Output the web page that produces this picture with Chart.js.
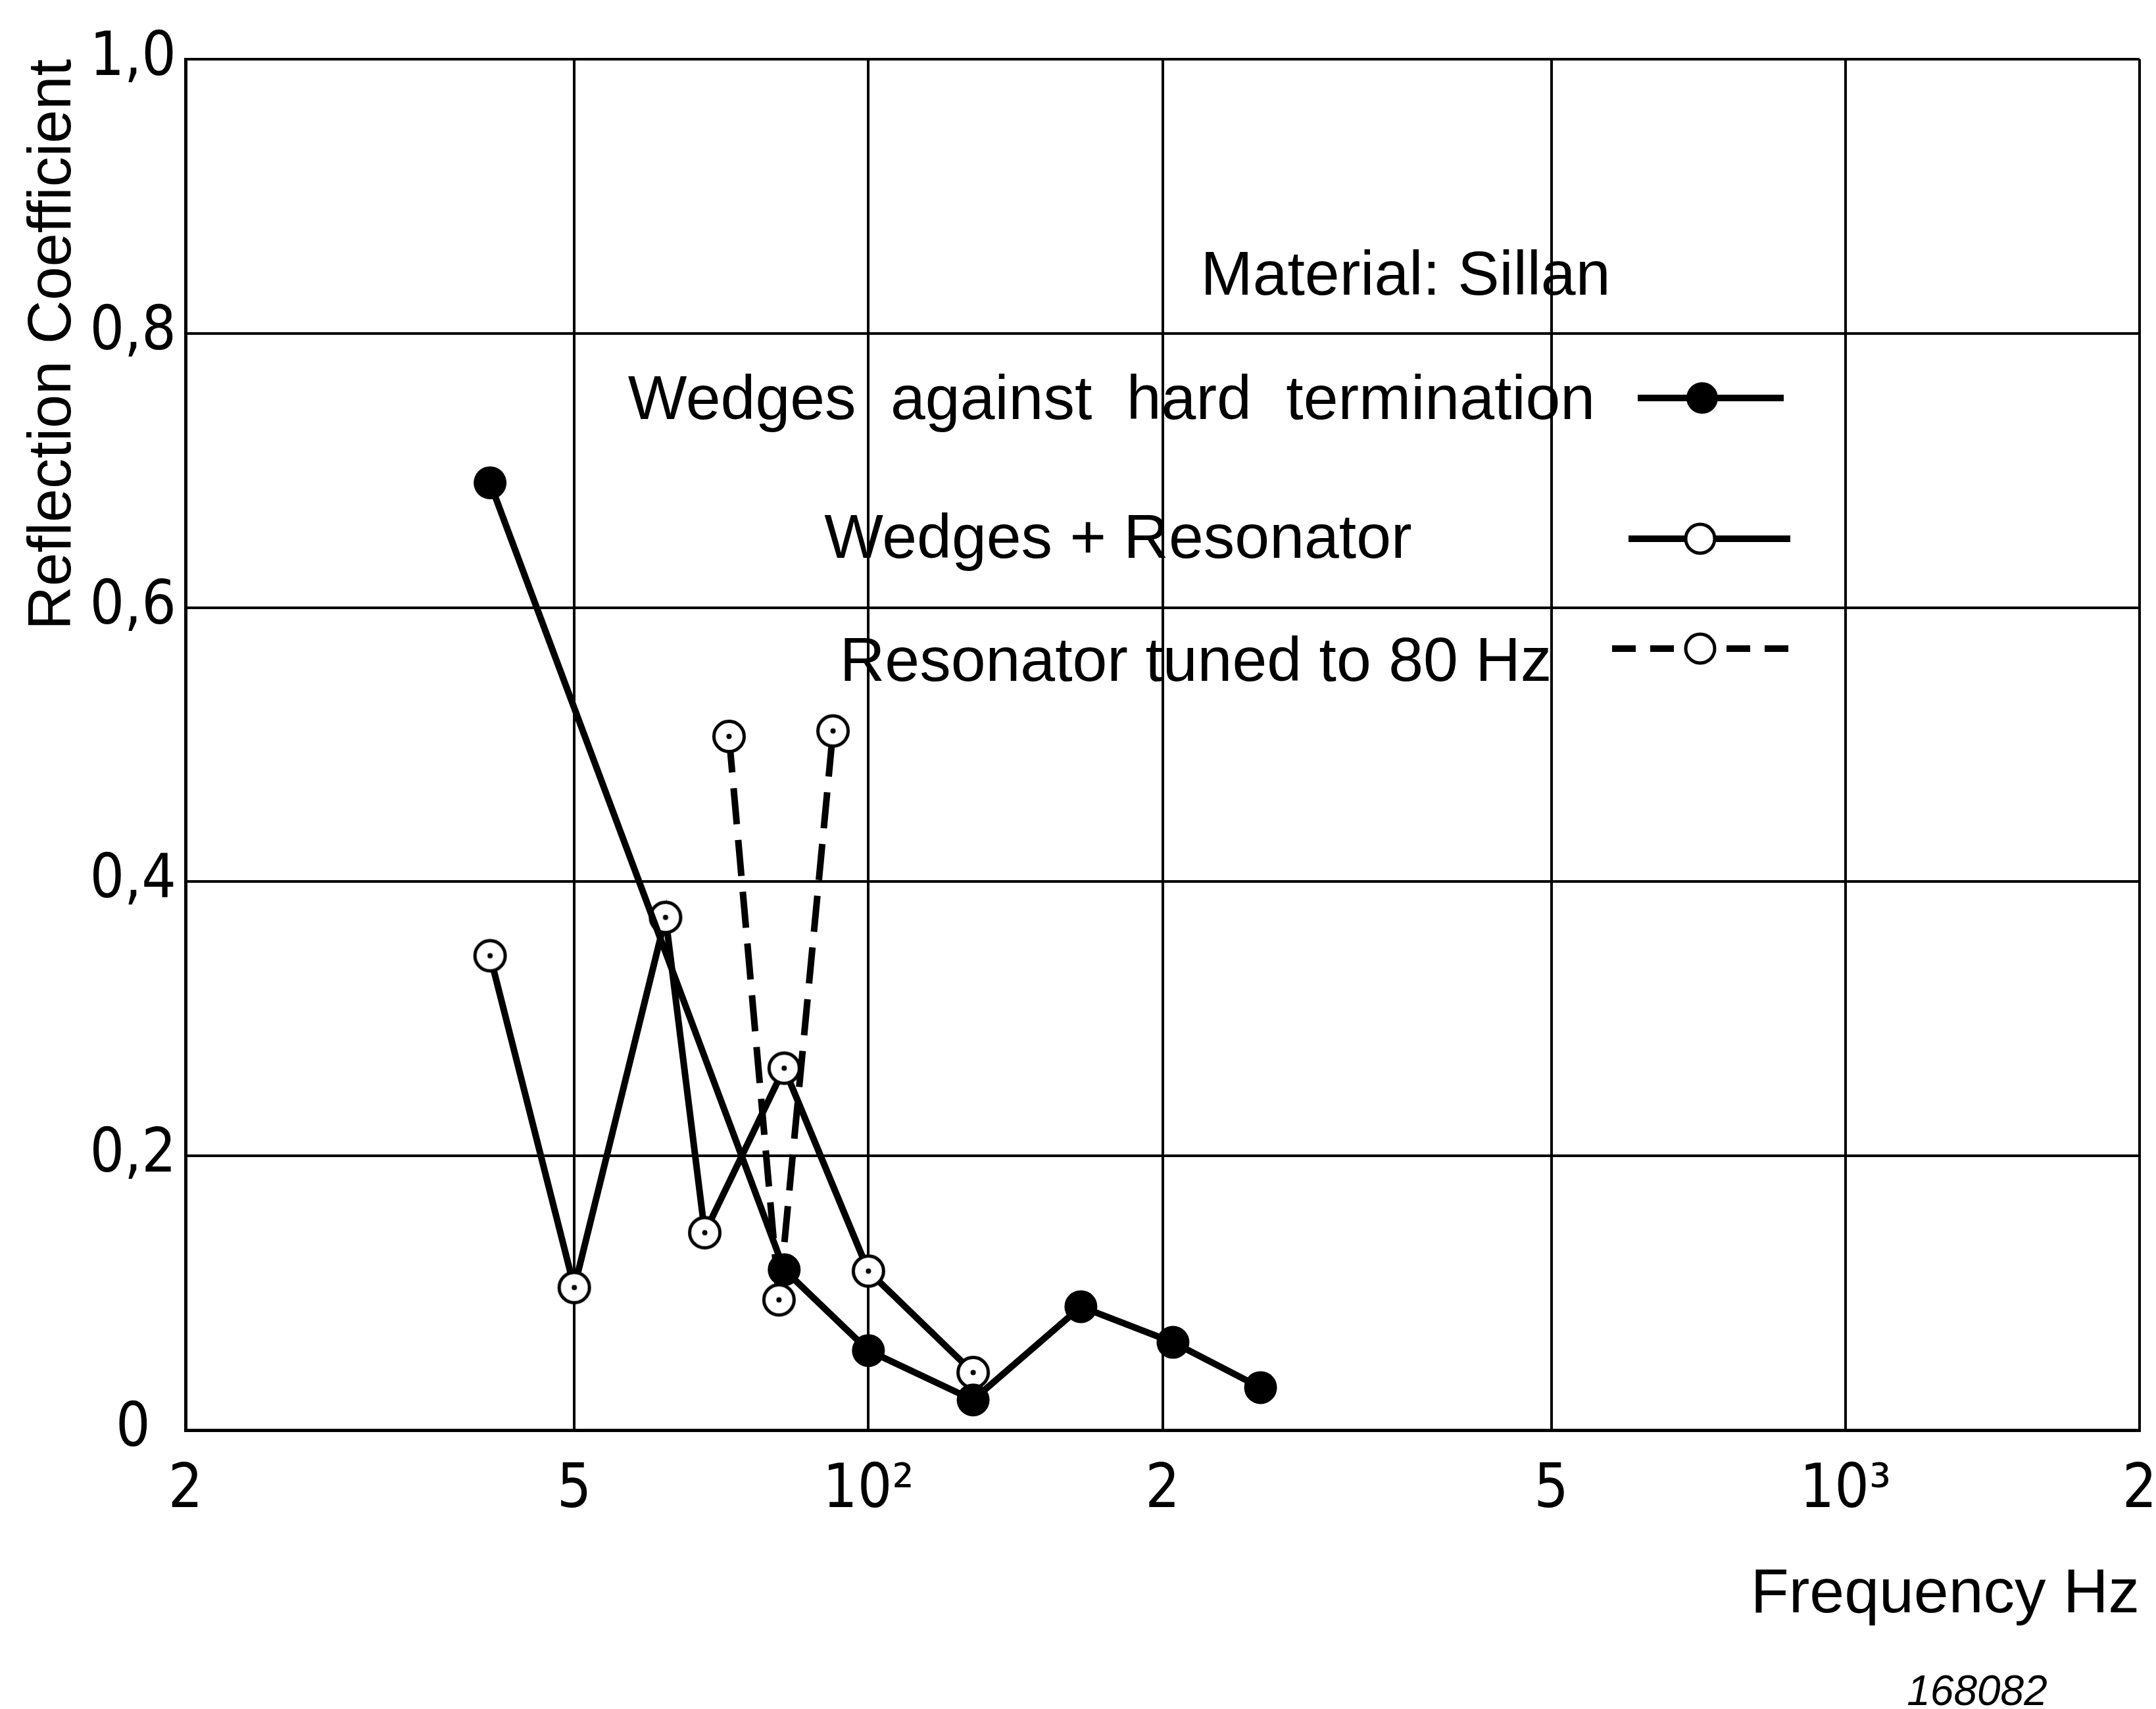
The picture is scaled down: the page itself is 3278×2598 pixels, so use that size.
<!DOCTYPE html>
<html lang="en">
<head>
<meta charset="UTF-8">
<title>Reflection Coefficient - Material: Sillan</title>
<script src="https://cdn.jsdelivr.net/npm/chart.js"></script>
<style>
    html, body { margin: 0; padding: 0; background: #ffffff; }
    #wrap { width: 3278px; height: 2598px; }
</style>
</head>
<body>
<div id="wrap"><canvas id="reflChart" width="3278" height="2598"></canvas></div>
<script>
    // Axis ticks
    const xTicks = [20, 50, 100, 200, 500, 1000, 2000];
    const xTickLabels = ['2', '5', '10²', '2', '5', '10³', '2'];
    const yTicks = [0, 0.2, 0.4, 0.6, 0.8, 1.0];
    const yTickLabels = ['0', '0,2', '0,4', '0,6', '0,8', '1,0'];

    // Wedges against hard termination
    const hardFreq = [41, 82, 100, 128, 165, 205, 252];
    const hardRefl = [0.691, 0.117, 0.058, 0.022, 0.090, 0.064, 0.031];

    // Wedges + Resonator
    const wedgeResFreq = [41, 50, 62, 68, 82, 100, 128];
    const wedgeResRefl = [0.346, 0.104, 0.374, 0.144, 0.264, 0.116, 0.042];

    // Resonator tuned to 80 Hz
    const tunedFreq = [72, 81, 92];
    const tunedRefl = [0.506, 0.095, 0.510];

    const seriesNames = ['Wedges against hard termination', 'Wedges + Resonator', 'Resonator tuned to 80 Hz'];

    const textFont = "'Liberation Sans', Arial, sans-serif";
    const digitFont = "'DejaVu Sans Condensed', 'DejaVu Sans', sans-serif";

    const toPoints = (xs, ys) => xs.map((x, i) => ({ x: x, y: ys[i] }));

    // open circle marker, optionally with a dot in the middle
    function openMarker(r, lw, dot) {
        const c = document.createElement('canvas');
        const s = Math.ceil(2 * r + lw + 2);
        c.width = s;
        c.height = s;
        const g = c.getContext('2d');
        g.beginPath();
        g.arc(s / 2, s / 2, r, 0, Math.PI * 2);
        g.fillStyle = '#ffffff';
        g.fill();
        g.lineWidth = lw;
        g.strokeStyle = '#000000';
        g.stroke();
        if (dot) {
            g.beginPath();
            g.arc(s / 2, s / 2, dot, 0, Math.PI * 2);
            g.fillStyle = '#000000';
            g.fill();
        }
        return c;
    }
    const ringDot = openMarker(23, 5, 4);

    // key on the plot: text, then a short line with its marker
    const keyRows = [
        { label: seriesNames[0], textX: 1690, baseY: 637, lineY: 605, from: 2490, to: 2712, at: 2588, filled: true, dash: [], wordGap: 26 },
        { label: seriesNames[1], textX: 1700, baseY: 848, lineY: 819, from: 2476, to: 2722, at: 2585, filled: false, dash: [], wordGap: 0 },
        { label: seriesNames[2], textX: 1818, baseY: 1035, lineY: 986, from: 2451, to: 2727, at: 2585, filled: false, dash: [36, 22], wordGap: 0 }
    ];

    const annotations = {
        id: 'annotations',
        beforeDraw(chart) {
            const c = chart.ctx;
            c.save();
            c.fillStyle = '#ffffff';
            c.fillRect(0, 0, chart.width, chart.height);
            c.restore();
        },
        afterDatasetsDraw(chart) {
            const c = chart.ctx;
            c.save();
            c.fillStyle = '#000000';
            c.strokeStyle = '#000000';
            c.textBaseline = 'alphabetic';
            c.textAlign = 'center';
            c.font = '95px ' + textFont;
            c.fillText('Material: Sillan', 2137, 448);

            keyRows.forEach(row => {
                c.font = '95px ' + textFont;
                c.wordSpacing = row.wordGap + 'px';
                c.fillText(row.label, row.textX, row.baseY);
                c.wordSpacing = '0px';
                c.lineWidth = 10;
                c.setLineDash(row.dash);
                c.beginPath();
                c.moveTo(row.from, row.lineY);
                c.lineTo(row.to, row.lineY);
                c.stroke();
                c.setLineDash([]);
                c.beginPath();
                c.arc(row.at, row.lineY, row.filled ? 24 : 22, 0, Math.PI * 2);
                if (row.filled) {
                    c.fill();
                } else {
                    c.fillStyle = '#ffffff';
                    c.fill();
                    c.lineWidth = 5;
                    c.stroke();
                    c.fillStyle = '#000000';
                }
            });

            // drawing number
            c.font = 'italic 64px ' + textFont;
            c.fillText('168082', 3006, 2592);
            c.restore();
        }
    };

    const tickFont = { family: digitFont, size: 92 };

    const ctx = document.getElementById('reflChart').getContext('2d');
    const reflChart = new Chart(ctx, {
        type: 'line',
        data: {
            datasets: [
                {
                    label: seriesNames[0],
                    data: toPoints(hardFreq, hardRefl),
                    borderColor: '#000000',
                    borderWidth: 10,
                    backgroundColor: '#000000',
                    pointRadius: 25,
                    pointBorderWidth: 0,
                    pointBackgroundColor: '#000000',
                    tension: 0
                },
                {
                    label: seriesNames[1],
                    data: toPoints(wedgeResFreq, wedgeResRefl),
                    borderColor: '#000000',
                    borderWidth: 10,
                    pointStyle: ringDot,
                    tension: 0
                },
                {
                    label: seriesNames[2],
                    data: toPoints(tunedFreq, tunedRefl),
                    borderColor: '#000000',
                    borderWidth: 10,
                    borderDash: [55, 24],
                    pointStyle: ringDot,
                    tension: 0
                }
            ]
        },
        options: {
            responsive: false,
            devicePixelRatio: 1,
            animation: false,
            layout: { padding: { top: 90, right: 21, bottom: 0, left: 0 } },
            plugins: {
                legend: { display: false },
                tooltip: { enabled: false }
            },
            scales: {
                x: {
                    type: 'logarithmic',
                    min: 20,
                    max: 2000,
                    afterBuildTicks: scale => { scale.ticks = xTicks.map(v => ({ value: v })); },
                    afterFit: scale => {
                        scale.height = 2598 - 2174;
                        scale.paddingLeft = 0;
                        scale.paddingRight = 0;
                    },
                    ticks: {
                        callback: (value, index) => xTickLabels[index],
                        font: tickFont,
                        color: '#000000',
                        padding: 38,
                        maxRotation: 0,
                        autoSkip: false
                    },
                    grid: { color: '#000000', lineWidth: 4, drawTicks: false },
                    border: { display: true, color: '#000000', width: 5 },
                    title: {
                        display: true,
                        text: 'Frequency Hz',
                        align: 'end',
                        color: '#000000',
                        font: { family: textFont, size: 95 },
                        padding: { top: 0, bottom: 116 }
                    }
                },
                y: {
                    min: 0,
                    max: 1,
                    afterBuildTicks: scale => { scale.ticks = yTicks.map(v => ({ value: v })); },
                    afterFit: scale => {
                        scale.width = 282;
                        scale.paddingTop = 0;
                        scale.paddingBottom = 0;
                    },
                    ticks: {
                        callback: (value, index) => yTickLabels[index],
                        font: tickFont,
                        color: '#000000',
                        padding: 14,
                        crossAlign: 'center'
                    },
                    grid: { color: '#000000', lineWidth: 4, drawTicks: false },
                    border: { display: true, color: '#000000', width: 5 },
                    title: {
                        display: true,
                        text: 'Reflection Coefficient',
                        align: 'end',
                        color: '#000000',
                        font: { family: textFont, size: 92 },
                        padding: { top: 26, bottom: 0 }
                    }
                }
            }
        },
        plugins: [annotations]
    });
</script>
</body>
</html>
